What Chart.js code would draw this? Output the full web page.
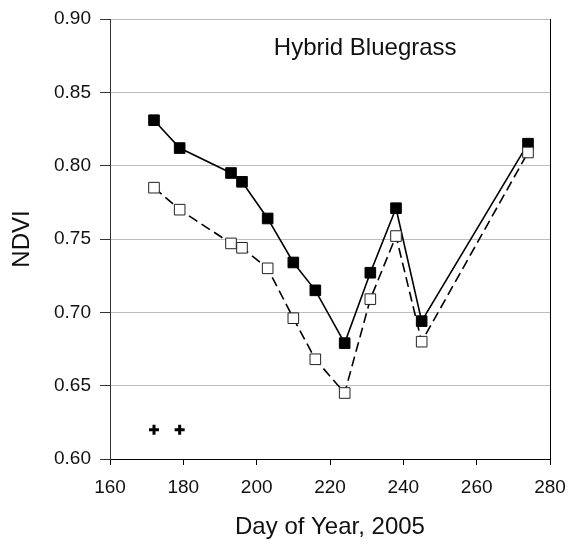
<!DOCTYPE html>
<html>
<head>
<meta charset="utf-8">
<script src="https://cdn.jsdelivr.net/npm/chart.js@4"></script>
<style>
  html, body { margin: 0; padding: 0; background: #fff; }
  #wrap { width: 570px; height: 550px; }
</style>
</head>
<body>
<div id="wrap"><canvas id="chart" width="570" height="550"></canvas></div>
<script>
/* DATOS */
const days = [172, 179, 193, 196, 203, 210, 216, 224, 231, 238, 245, 274]
const solidNdvi = [0.831, 0.812, 0.795, 0.789, 0.764, 0.734, 0.715, 0.679, 0.727, 0.771, 0.694, 0.815]
const dashedNdvi = [0.785, 0.770, 0.747, 0.744, 0.730, 0.696, 0.668, 0.645, 0.709, 0.752, 0.680, 0.809]
const markDays = [172, 179]
const markNdvi = [0.620, 0.620]
const xTicks = [160, 180, 200, 220, 240, 260, 280]
const yTicks = [0.60, 0.65, 0.70, 0.75, 0.80, 0.85, 0.90]
const chartLabel = 'Hybrid Bluegrass'

const font = '"Liberation Sans", Arial, sans-serif'
const toPoints = (xs, ys) => xs.map((x, i) => ({ x, y: ys[i] }))

/* TEXTO DENTRO DEL AREA DEL GRAFICO */
const innerLabel = {
    id: 'innerLabel',
    afterDatasetsDraw(chart) {
        const { ctx, chartArea } = chart
        ctx.save()
        ctx.font = `24px ${font}`
        ctx.fillStyle = '#111'
        ctx.textAlign = 'center'
        ctx.textBaseline = 'middle'
        ctx.fillText(chartLabel, chartArea.left + chartArea.width * 0.58, chartArea.top + 29)
        ctx.restore()
    }
}

new Chart(document.querySelector('#chart'), {
    type: 'scatter',
    data: {
        datasets: [
            {
                data: toPoints(days, dashedNdvi),
                showLine: true,
                borderColor: '#000',
                borderWidth: 1.6,
                borderDash: [10, 5],
                pointStyle: 'rect',
                pointRadius: 7.5,
                pointBackgroundColor: '#fff',
                pointBorderColor: '#222',
                pointBorderWidth: 1
            },
            {
                data: toPoints(days, solidNdvi),
                showLine: true,
                borderColor: '#000',
                borderWidth: 1.6,
                pointStyle: 'rect',
                pointRadius: 7.5,
                pointBackgroundColor: '#000',
                pointBorderColor: '#000',
                pointBorderWidth: 1
            },
            {
                data: toPoints(markDays, markNdvi),
                showLine: false,
                pointStyle: 'cross',
                pointRadius: 5,
                pointBorderColor: '#000',
                pointBorderWidth: 3
            }
        ]
    },
    options: {
        responsive: false,
        animation: false,
        layout: { padding: { top: 19, right: 20, left: 0, bottom: 0 } },
        plugins: { legend: { display: false }, tooltip: { enabled: false } },
        scales: {
            x: {
                type: 'linear',
                min: 160,
                max: 280,
                afterBuildTicks: s => { s.ticks = xTicks.map(value => ({ value })) },
                afterFit: s => { s.height = 91; s.paddingLeft = 0; s.paddingRight = 0 },
                grid: { drawOnChartArea: false, tickLength: 6, tickColor: '#000' },
                border: { color: '#000', width: 1 },
                ticks: { color: '#111', font: { family: font, size: 19 }, padding: 11, maxRotation: 0 },
                title: { display: true, text: 'Day of Year, 2005', color: '#111', font: { family: font, size: 24 }, padding: { top: 0, bottom: 8 } }
            },
            y: {
                min: 0.60,
                max: 0.90,
                afterBuildTicks: s => { s.ticks = yTicks.map(value => ({ value })) },
                afterFit: s => { s.width = 110; s.paddingTop = 0; s.paddingBottom = 0 },
                grid: { color: '#bcbcbc', lineWidth: 1, tickLength: 10, tickColor: '#333' },
                border: { color: '#333', width: 1 },
                ticks: { color: '#111', font: { family: font, size: 19 }, padding: 9, callback: v => v.toFixed(2) },
                title: { display: true, text: 'NDVI', color: '#111', font: { family: font, size: 24 }, padding: { top: 8, bottom: 0 } }
            },
            y2: {
                position: 'right',
                min: 0.60,
                max: 0.90,
                afterFit: s => { s.width = 0 },
                grid: { drawOnChartArea: false, drawTicks: false },
                border: { color: '#000', width: 1 },
                ticks: { display: false }
            }
        }
    },
    plugins: [innerLabel]
})
</script>
</body>
</html>
